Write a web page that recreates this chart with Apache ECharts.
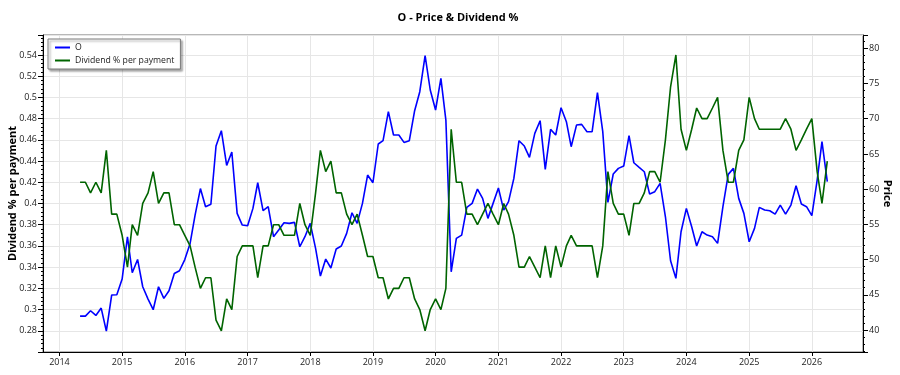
<!DOCTYPE html>
<html>
<head>
<meta charset="utf-8">
<title>O - Price &amp; Dividend %</title>
<script src="https://cdn.jsdelivr.net/npm/echarts@6.0.0/dist/echarts.min.js"></script>
<style>
  html, body { margin: 0; padding: 0; background: #fff; }
  #chart { width: 900px; height: 375px; }
</style>
</head>
<body>
<div id="chart"></div>
<script>
// one point per month, the first one is May 2014
const startYear = 2014
const startMonth = 5

// share price (right axis)
const price = [
  41.97, 41.97, 42.73, 42.07, 43.11, 39.84, 44.96, 45.00,            // 2014 May-Dec
  47.23, 53.24, 48.13, 50.02, 46.14, 44.39, 42.88, 46.14, 44.49, 45.57, 48.03, 48.41, // 2015
  50.00, 52.30, 56.30, 60.08, 57.50, 57.86, 66.12, 68.30, 63.38, 65.27, 56.56, 54.90, // 2016
  54.81, 57.27, 60.91, 56.94, 57.51, 53.25, 54.19, 55.23, 55.14, 55.28, 51.82, 53.25, // 2017
  55.14, 51.60, 47.66, 50.07, 48.80, 51.50, 51.92, 53.72, 56.65, 55.14, 57.98, 62.00, // 2018
  60.91, 66.41, 66.88, 71.00, 67.69, 67.69, 66.64, 66.88, 71.14, 73.84, 78.95, 74.08, // 2019
  71.24, 75.73, 69.81, 48.27, 53.01, 53.48, 57.40, 57.98, 60.02, 58.69, 55.85, 57.98, // 2020
  60.16, 57.03, 58.22, 61.53, 66.88, 66.12, 64.51, 67.92, 69.72, 62.81, 68.49, 67.69, // 2021
  71.57, 69.58, 66.03, 69.10, 69.20, 68.16, 68.16, 73.72, 68.16, 58.12, 62.15, 62.95, // 2022
  63.28, 67.59, 63.75, 63.09, 62.47, 59.30, 59.64, 60.82, 56.08, 49.83, 47.33, 53.95, // 2023
  57.27, 54.66, 51.92, 53.95, 53.48, 53.24, 52.30, 57.51, 62.10, 62.95, 58.69, 56.56, // 2024
  52.53, 54.43, 57.41, 57.03, 56.94, 56.46, 57.74, 56.46, 57.74, 60.49, 57.88, 57.51, // 2025
  56.23, 61.29, 66.74, 61.06                                          // 2026 Jan-Apr
]

// dividend of one payment as % of price (left axis)
const dividendPct = [
  0.42, 0.42, 0.41, 0.42, 0.41, 0.45, 0.39, 0.39,
  0.37, 0.34, 0.38, 0.37, 0.40, 0.41, 0.43, 0.40, 0.41, 0.41, 0.38, 0.38,
  0.37, 0.36, 0.34, 0.32, 0.33, 0.33, 0.29, 0.28, 0.31, 0.30, 0.35, 0.36,
  0.36, 0.36, 0.33, 0.36, 0.36, 0.38, 0.38, 0.37, 0.37, 0.37, 0.40, 0.38,
  0.37, 0.41, 0.45, 0.43, 0.44, 0.41, 0.41, 0.39, 0.38, 0.39, 0.37, 0.35,
  0.35, 0.33, 0.33, 0.31, 0.32, 0.32, 0.33, 0.33, 0.31, 0.30, 0.28, 0.30,
  0.31, 0.30, 0.32, 0.47, 0.42, 0.42, 0.39, 0.39, 0.38, 0.39, 0.40, 0.39,
  0.38, 0.40, 0.39, 0.37, 0.34, 0.34, 0.35, 0.34, 0.33, 0.36, 0.33, 0.36,
  0.34, 0.36, 0.37, 0.36, 0.36, 0.36, 0.36, 0.33, 0.36, 0.43, 0.40, 0.39,
  0.39, 0.37, 0.40, 0.40, 0.41, 0.43, 0.43, 0.42, 0.46, 0.51, 0.54, 0.47,
  0.45, 0.47, 0.49, 0.48, 0.48, 0.49, 0.50, 0.45, 0.42, 0.42, 0.45, 0.46,
  0.50, 0.48, 0.47, 0.47, 0.47, 0.47, 0.47, 0.48, 0.47, 0.45, 0.46, 0.47,
  0.48, 0.43, 0.40, 0.44
]

function monthDate(i) {
  const m = startMonth - 1 + i
  const y = startYear + Math.floor(m / 12)
  const mm = (m % 12) + 1
  return y + '-' + String(mm).padStart(2, '0') + '-01'
}

const font = 'Open Sans'
const YEAR = 365 * 24 * 3600 * 1000

const chart = echarts.init(document.getElementById('chart'))

chart.setOption({
  animation: false,
  textStyle: { fontFamily: font },
  title: {
    text: 'O - Price & Dividend %',
    left: 453,
    top: 7,
    textAlign: 'center',
    textStyle: { fontFamily: font, fontSize: 11, fontWeight: 'bold', color: '#000' }
  },
  legend: {
    orient: 'vertical',
    left: 48,
    top: 39,
    padding: [4, 6, 4, 7],
    itemGap: 4,
    itemWidth: 15,
    itemHeight: 2,
    icon: 'rect',
    backgroundColor: '#fff',
    borderColor: '#7a7a7a',
    borderWidth: 1,
    shadowColor: 'rgba(0,0,0,0.35)',
    shadowBlur: 2,
    shadowOffsetX: 2,
    shadowOffsetY: 2,
    textStyle: { fontFamily: font, fontSize: 8.7, color: '#222' },
    data: ['O', 'Dividend % per payment']
  },
  grid: {
    left: 43,
    right: 37,
    top: 35,
    bottom: 23,
    outerBoundsMode: 'none',
    containLabel: false,
    show: true,
    borderColor: '#707070',
    borderWidth: 1
  },
  xAxis: {
    type: 'time',
    min: '2013-09-27',
    max: '2026-10-26',
    minInterval: YEAR,
    splitNumber: 12,
    axisLine: { lineStyle: { color: '#000' } },
    axisTick: { show: true, length: 4, lineStyle: { color: '#000' } },
    axisLabel: {
      fontSize: 9,
      color: '#222',
      margin: 6,
      showMinLabel: false,
      showMaxLabel: false,
      formatter: '{yyyy}'
    },
    splitLine: { show: true, lineStyle: { color: '#e6e6e6' } }
  },
  yAxis: [
    {
      type: 'value',
      position: 'left',
      min: 0.26,
      max: 0.5588,
      interval: 0.02,
      name: 'Dividend % per payment',
      nameLocation: 'middle',
      nameRotate: 90,
      nameGap: 25,
      nameMoveOverlap: false,
      nameTextStyle: { fontFamily: font, fontSize: 11, fontWeight: 'bold', color: '#000' },
      axisLine: { show: true, lineStyle: { color: '#000' } },
      axisTick: { show: true, length: 5, lineStyle: { color: '#000' } },
      minorTick: { show: true, splitNumber: 5, length: 2, lineStyle: { color: '#000' } },
      axisLabel: {
        fontSize: 9,
        color: '#222',
        margin: 6,
        showMinLabel: false,
        showMaxLabel: false
      },
      splitLine: { show: true, lineStyle: { color: '#e6e6e6' } }
    },
    {
      type: 'value',
      position: 'right',
      min: 36.875,
      max: 81.89,
      splitNumber: 9,
      name: 'Price',
      nameLocation: 'middle',
      nameRotate: -90,
      nameGap: 19,
      nameMoveOverlap: false,
      nameTextStyle: { fontFamily: font, fontSize: 11, fontWeight: 'bold', color: '#000' },
      axisLine: { show: true, lineStyle: { color: '#000' } },
      axisTick: { show: true, length: 5, lineStyle: { color: '#000' } },
      minorTick: { show: true, splitNumber: 5, length: 2, lineStyle: { color: '#000' } },
      axisLabel: {
        fontSize: 9,
        color: '#222',
        margin: 6,
        showMinLabel: false,
        showMaxLabel: false
      },
      splitLine: { show: false }
    }
  ],
  series: [
    {
      name: 'O',
      type: 'line',
      yAxisIndex: 1,
      showSymbol: false,
      color: '#0000ff',
      lineStyle: { color: '#0000ff', width: 1.6 },
      data: price.map((v, i) => [monthDate(i), v])
    },
    {
      name: 'Dividend % per payment',
      type: 'line',
      yAxisIndex: 0,
      showSymbol: false,
      color: '#006400',
      lineStyle: { color: '#006400', width: 1.6 },
      data: dividendPct.map((v, i) => [monthDate(i), v])
    }
  ]
})

window.addEventListener('resize', () => chart.resize())
</script>
</body>
</html>
